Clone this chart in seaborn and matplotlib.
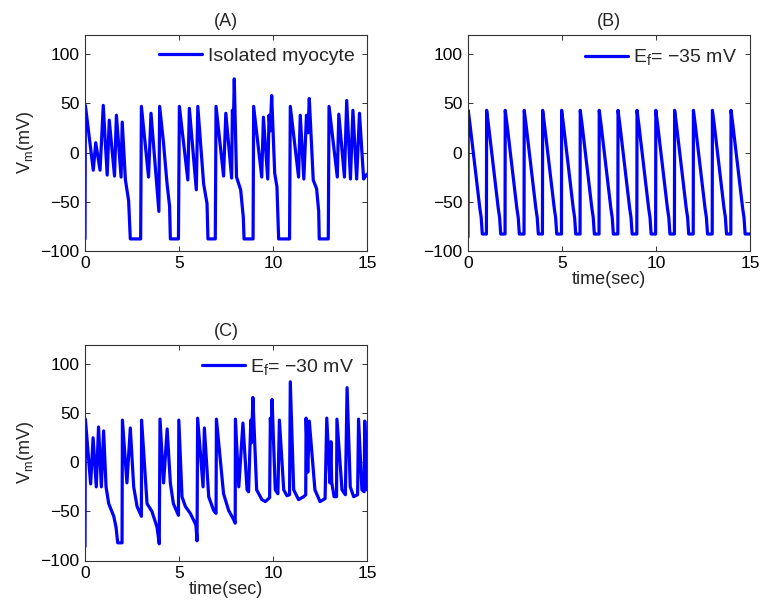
import matplotlib
matplotlib.use("Agg")
import matplotlib.pyplot as plt
import seaborn as sns
import pandas as pd

# ---------------- data ----------------
# Panel A: isolated myocyte
t_a = [0.0, 0.02, 0.44, 0.57, 0.80, 0.88, 0.97, 1.18, 1.29, 1.57, 1.67, 1.92, 1.98, 2.15, 2.32, 2.41,
       2.96, 3.00, 3.38, 3.51, 3.93, 3.97, 4.18, 4.36, 4.50, 4.54, 4.97, 5.02, 5.47, 5.55, 5.92, 6.00,
       6.31, 6.49, 6.54, 6.93, 6.97, 7.37, 7.49, 7.80, 7.84, 7.89, 7.94, 8.06, 8.28, 8.42, 8.46, 8.94,
       8.97, 9.40, 9.49, 9.72, 9.79, 9.85, 9.93, 10.09, 10.21, 10.30, 10.88, 10.92, 11.36, 11.45, 11.64,
       11.78, 11.86, 11.93, 12.14, 12.32, 12.43, 12.46, 12.94, 12.98, 13.42, 13.50, 13.80, 13.92, 14.12,
       14.25, 14.45, 14.60, 14.82, 15.0]
v_a = [-88, 48, -18, 10, -18, 12, 48, -23, 33, -24, 38, -25, 31, -28, -49, -88,
       -88, 47, -25, 40, -60, 47, 9, -31, -55, -88, -88, 47, -28, 45, -38, 47,
       -32, -52, -88, -88, 47, -24, 40, -26, 43, 25, 75, -25, -38, -66, -88, -88,
       47, -25, 36, -27, 38, 22, 58, -21, -35, -88, -88, 47, -25, 38, -27,
       38, 20, 55, -28, -37, -60, -88, -88, 47, -25, 39, -25, 53, -27,
       43, -27, 40, -27, -22]

# Panel B: E_f = -35 mV
t_b = [0.00, 0.01, 0.11, 0.63, 0.70, 0.76,
       0.98, 0.99, 1.09, 1.61, 1.68, 1.74,
       1.97, 1.98, 2.08, 2.60, 2.67, 2.73,
       2.98, 2.99, 3.09, 3.61, 3.68, 3.74,
       3.96, 3.97, 4.07, 4.59, 4.66, 4.72,
       4.97, 4.98, 5.08, 5.60, 5.67, 5.73,
       5.96, 5.97, 6.07, 6.59, 6.66, 6.72,
       6.97, 6.98, 7.08, 7.60, 7.67, 7.73,
       7.97, 7.98, 8.08, 8.60, 8.67, 8.73,
       8.98, 8.99, 9.09, 9.61, 9.68, 9.74,
       9.98, 9.99, 10.09, 10.61, 10.68, 10.74,
       10.98, 10.99, 11.09, 11.61, 11.68, 11.74,
       11.98, 11.99, 12.09, 12.61, 12.68, 12.74,
       12.99, 13.00, 13.10, 13.62, 13.69, 13.75,
       13.98, 13.99, 14.09, 14.61, 14.68, 14.74, 15.0]
v_b = [-86, 43, 28, -57, -66, -83,
       -83, 43, 28, -57, -66, -83,
       -83, 43, 28, -57, -66, -83,
       -83, 43, 28, -57, -66, -83,
       -83, 43, 28, -57, -66, -83,
       -83, 43, 28, -57, -66, -83,
       -83, 43, 28, -57, -66, -83,
       -83, 43, 28, -57, -66, -83,
       -83, 43, 28, -57, -66, -83,
       -83, 43, 28, -57, -66, -83,
       -83, 43, 28, -57, -66, -83,
       -83, 43, 28, -57, -66, -83,
       -83, 43, 28, -57, -66, -83,
       -83, 43, 28, -57, -66, -83,
       -83, 43, 28, -57, -66, -83, -83]

# Panel C: E_f = -30 mV
t_c = [0.0, 0.02, 0.30, 0.43, 0.60, 0.72, 0.87, 0.99, 1.12, 1.26, 1.53, 1.65, 1.74, 1.97, 1.99,
       2.23, 2.41, 2.59, 2.77, 3.00, 3.01, 3.30, 3.56, 3.83, 3.95, 3.99, 4.18, 4.37, 4.54, 4.70,
       4.97, 4.99, 5.16, 5.34, 5.60, 5.78, 5.90, 5.96, 5.99, 6.28, 6.35, 6.58, 6.84, 6.97, 6.99,
       7.37, 7.64, 7.87, 7.99, 8.00, 8.18, 8.40, 8.62, 8.70, 8.82, 8.86, 8.93, 9.13, 9.41, 9.59,
       9.82, 9.86, 9.90, 9.95, 10.12, 10.26, 10.34, 10.57, 10.74, 10.88, 10.92, 11.10, 11.36, 11.63,
       11.74, 11.76, 11.85, 11.93, 12.23, 12.50, 12.77, 12.86, 13.03, 13.08, 13.12, 13.25, 13.38,
       13.40, 13.67, 13.85, 13.94, 14.11, 14.29, 14.50, 14.55, 14.73, 14.85, 14.88, 15.0]
v_c = [-86, 44, -22, 25, -25, 36, -25, 32, -25, -42, -55, -66, -82, -82, 43,
       -21, 35, -25, -45, -55, 43, -42, -50, -66, -83, 44, -21, 34, -21, -42,
       -54, 43, -35, -45, -52, -59, -64, -80, 45, -25, 35, -35, -49, -52, 44,
       -32, -49, -57, -62, 44, -25, 40, -28, -30, 43, 20, 66, -28, -38, -40,
       -36, 45, 25, 64, -28, -32, 43, -28, -34, -33, 82, -28, -38, -35,
       -33, 45, -10, 42, -28, -40, -37, 45, -21, 21, -20, -35, -35,
       44, -28, -33, 76, -25, -35, -33, 44, -28, -30, 42, -28]

titles = ["(A)", "(B)", "(C)"]
legend_labels = ["Isolated myocyte", "E$_{\\mathrm{f}}$= \u221235 mV", "E$_{\\mathrm{f}}$= \u221230 mV"]
x_ticks = [0, 5, 10, 15]
y_ticks = [-100, -50, 0, 50, 100]
ylabel = "V$_{\\mathrm{m}}$(mV)"
xlabel = "time(sec)"

# ---------------- style ----------------
sns.set_theme(style="ticks")
plt.rcParams.update({
    "font.family": ["Liberation Sans", "DejaVu Sans"],
    "mathtext.fontset": "custom",
    "mathtext.rm": "Liberation Sans",
    "mathtext.it": "Liberation Sans:italic",
    "mathtext.bf": "Liberation Sans:bold",
    "xtick.direction": "in",
    "ytick.direction": "in",
    "xtick.top": True,
    "ytick.right": True,
    "axes.edgecolor": "#333333",
    "axes.linewidth": 0.8,
})

W, H = 762, 611
fig = plt.figure(figsize=(W / 100, H / 100), dpi=100)

def frac(left, right, top, bottom):
    return [left / W, 1 - bottom / H, (right - left) / W, (bottom - top) / H]

ax_a = fig.add_axes(frac(85, 367, 34.7, 250.7))
ax_b = fig.add_axes(frac(468, 750, 34.7, 250.7))
ax_c = fig.add_axes(frac(85, 367, 344.5, 560.5))

panels = [
    (ax_a, t_a, v_a, titles[0], legend_labels[0], True, False),
    (ax_b, t_b, v_b, titles[1], legend_labels[1], False, True),
    (ax_c, t_c, v_c, titles[2], legend_labels[2], True, True),
]

for ax, t, v, title, lab, show_ylabel, show_xlabel in panels:
    df = pd.DataFrame({"t": t, "v": v})
    sns.lineplot(data=df, x="t", y="v", sort=False, estimator=None, ax=ax,
                 color="#0000ff", linewidth=2.3, label=lab)
    ax.set_xlim(0, 15)
    ax.set_ylim(-100, 120)
    ax.set_xticks(x_ticks)
    ax.set_yticks(y_ticks)
    ax.tick_params(axis="both", labelsize=12.5, length=3.5, width=0.7,
                   colors="#333333", labelcolor="black", pad=4)
    ax.set_title(title, fontsize=13, pad=6)
    ax.set_ylabel(ylabel if show_ylabel else "", fontsize=13, labelpad=3)
    ax.set_xlabel(xlabel if show_xlabel else "", fontsize=13, labelpad=0)
    ax.legend(loc="upper right", frameon=False, fontsize=14, handlelength=2.2,
              handletextpad=0.3, borderaxespad=0.2, borderpad=0.45)
    for s in ax.spines.values():
        s.set_visible(True)

fig.savefig("out.png", dpi=100)
